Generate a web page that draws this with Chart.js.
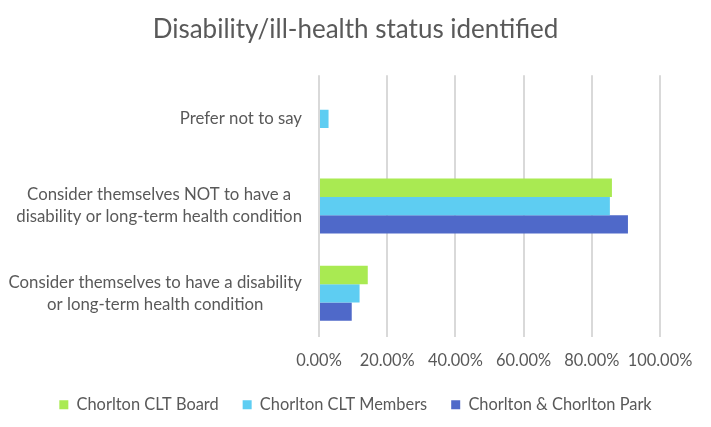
<!DOCTYPE html>
<html>
<head>
<meta charset="utf-8">
<script src="https://cdn.jsdelivr.net/npm/chart.js@4"></script>
<style>
  html, body { margin: 0; padding: 0; background: #fff; }
  #wrap { width: 711px; height: 427px; }
</style>
</head>
<body>
<div id="wrap"><canvas id="c" width="711" height="427"></canvas></div>
<script>
const title = 'Disability/ill-health status identified';
const categories = [
  ['Prefer not to say'],
  ['Consider themselves NOT to have a', 'disability or long-term health condition'],
  ['Consider themselves to have a disability', 'or long-term health condition']
];
const seriesNames = ['Chorlton CLT Board', 'Chorlton CLT Members', 'Chorlton & Chorlton Park'];
const boardValues = [0, 85.9, 14.3];
const membersValues = [2.8, 85.3, 11.9];
const parkValues = [0, 90.6, 9.6];
const xTicks = [0, 20, 40, 60, 80, 100];

const FONT = 'Lato';
const TXT = '#595959';

const yLabelPlugin = {
  id: 'yLabels',
  afterDraw(chart) {
    const ctx = chart.ctx;
    const y = chart.scales.y;
    const rightEdge = chart.chartArea.left - 17;
    ctx.save();
    ctx.font = '16.8px ' + FONT;
    ctx.fillStyle = TXT;
    ctx.textAlign = 'center';
    ctx.textBaseline = 'middle';
    const lh = 22;
    categories.forEach((lines, i) => {
      const cy = y.getPixelForValue(i);
      const w = Math.max(...lines.map(l => ctx.measureText(l).width));
      const cx = rightEdge - w / 2;
      lines.forEach((l, j) => {
        ctx.fillText(l, cx, cy + (j - (lines.length - 1) / 2) * lh);
      });
    });
    ctx.restore();
  }
};

new Chart(document.getElementById('c'), {
  type: 'bar',
  data: {
    labels: categories.map(c => c.join(' ')),
    datasets: [
      { label: seriesNames[0], data: boardValues, backgroundColor: '#a9ea52' },
      { label: seriesNames[1], data: membersValues, backgroundColor: '#5ecdf2' },
      { label: seriesNames[2], data: parkValues, backgroundColor: '#4f69c9' }
    ]
  },
  options: {
    indexAxis: 'y',
    responsive: false,
    animation: false,
    devicePixelRatio: 1,
    layout: { padding: { left: 0, right: 0, top: 0, bottom: 4 } },
    datasets: { bar: { barPercentage: 1, categoryPercentage: 0.63 } },
    plugins: {
      title: {
        display: true, text: title, color: TXT,
        font: { family: FONT, size: 26, weight: 'normal' },
        padding: { top: 14, bottom: 30 }
      },
      legend: {
        position: 'bottom',
        labels: {
          color: TXT, boxWidth: 9, boxHeight: 9, padding: 24,
          font: { family: FONT, size: 16.4 }
        }
      },
      tooltip: { enabled: false }
    },
    scales: {
      x: {
        min: 0, max: 100,
        afterBuildTicks(s) { s.ticks = xTicks.map(v => ({ value: v })); },
        afterFit(s) { s.height -= 12; },
        grid: { color: '#d9d9d9', lineWidth: 2, drawTicks: false },
        border: { display: false },
        ticks: {
          color: TXT, padding: 14, maxRotation: 0, minRotation: 0, autoSkip: false,
          font: { family: FONT, size: 16.4 },
          callback: v => v.toFixed(2) + '%'
        }
      },
      y: {
        grid: { display: false },
        border: { display: false },
        ticks: { display: false },
        afterFit(s) { s.width = 319; }
      },
      yRight: {
        type: 'linear',
        position: 'right',
        grid: { display: false },
        border: { display: false },
        ticks: { display: false },
        afterFit(s) { s.width = 51; }
      }
    }
  },
  plugins: [yLabelPlugin]
});
</script>
</body>
</html>
